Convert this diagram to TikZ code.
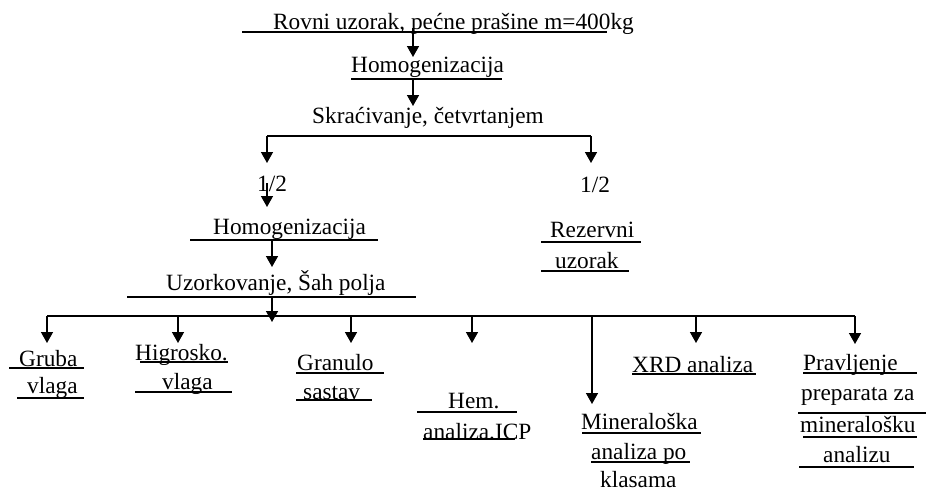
\documentclass[tikz,border=0pt]{standalone}
\usepackage{fontspec}
\setmainfont{Liberation Serif}
\usetikzlibrary{arrows.meta}
\begin{document}
\begin{tikzpicture}[x=1pt,y=-1pt,
  lbl/.style={anchor=base west,inner sep=0pt,font=\fontsize{23.3}{28}\selectfont},
  uline/.style={line width=1.5pt},
  conn/.style={line width=1.5pt},
  arr/.style={line width=1.5pt,-{Triangle[length=11pt,width=12pt]}}]
\useasboundingbox (0,0) rectangle (926,491);
% texts
\node[lbl] (rov) at (273,29.5) {Rovni uzorak, pećne prašine m=400kg};
\node[lbl] (hom1) at (351,72) {Homogenizacija};
\node[lbl] (skr) at (312,123) {Skraćivanje, četvrtanjem};
\node[lbl] (halfL) at (257,191) {1/2};
\node[lbl] (halfR) at (580,192) {1/2};
\node[lbl] (hom2) at (213,234) {Homogenizacija};
\node[lbl] (uzo) at (166,290) {Uzorkovanje, Šah polja};
\node[lbl] (rez1) at (550,237) {Rezervni};
\node[lbl] (rez2) at (555,268) {uzorak};
\node[lbl] (gru1) at (19,366) {Gruba};
\node[lbl] (gru2) at (27,393) {vlaga};
\node[lbl] (hig1) at (135,360) {Higrosko.};
\node[lbl] (hig2) at (162,389) {vlaga};
\node[lbl] (gra1) at (297,370) {Granulo};
\node[lbl] (gra2) at (303,399) {sastav};
\node[lbl] (hem1) at (448,408) {Hem.};
\node[lbl] (hem2) at (423,439) {analiza.ICP};
\node[lbl] (min1) at (581,429) {Mineraloška};
\node[lbl] (min2) at (591,459) {analiza po};
\node[lbl] (min3) at (600,487) {klasama};
\node[lbl] (xrd) at (632,372) {XRD analiza};
\node[lbl] (pra1) at (803,370) {Pravljenje};
\node[lbl] (pra2) at (801,400) {preparata za};
\node[lbl] (pra3) at (800,432) {mineralošku};
\node[lbl] (pra4) at (823,462) {analizu};
% underlines
\draw[uline] (242,32) -- (607,32);
\draw[uline] (351,79) -- (502,79);
\draw[uline] (190,240) -- (378,240);
\draw[uline] (127,297) -- (416,297);
\draw[uline] (541,242) -- (641,242);
\draw[uline] (541,271) -- (629,271);
\draw[uline] (9,368) -- (84,368);
\draw[uline] (17,398) -- (84,398);
\draw[uline] (140,362) -- (228,362);
\draw[uline] (135,392) -- (232,392);
\draw[uline] (296,373) -- (384,373);
\draw[uline] (296,400) -- (372,400);
\draw[uline] (417,412) -- (517,412);
\draw[uline] (423,439) -- (515,439);
\draw[uline] (582,433) -- (701,433);
\draw[uline] (591,462) -- (690,462);
\draw[uline] (632,374) -- (756,374);
\draw[uline] (803,373) -- (917,373);
\draw[uline] (798,413) -- (926,413);
\draw[uline] (803,437) -- (917,437);
\draw[uline] (799,467) -- (914,467);
% connector points
\coordinate (s1) at (413,28);   \coordinate (t1) at (413,57);
\coordinate (s2) at (413,79);   \coordinate (t2) at (413,106);
\coordinate (bL) at (267,136);  \coordinate (bR) at (591,136);
\coordinate (tL) at (267,163);  \coordinate (tR) at (591,163);
\coordinate (s5) at (267,183);  \coordinate (t5) at (267,207);
\coordinate (s6) at (272,240);  \coordinate (t6) at (272,267);
\coordinate (s7) at (272,297);  \coordinate (t7) at (272,322);
\coordinate (hl) at (47,316);   \coordinate (hr) at (855,316);
% connectors
\draw[arr] (s1) -- (t1);
\draw[arr] (s2) -- (t2);
\draw[conn] (bL) -- (bR);
\draw[arr] (bL) -- (tL);
\draw[arr] (bR) -- (tR);
\draw[arr] (s5) -- (t5);
\draw[arr] (s6) -- (t6);
\draw[conn] (hl) -- (hr);
\draw[arr] (s7) -- (t7);
\foreach \x/\y in {47/343,178/343,351/343,472/343,592/404,696/343,855/344}
  \draw[arr] (\x,316) -- (\x,\y);
\end{tikzpicture}
\end{document}
